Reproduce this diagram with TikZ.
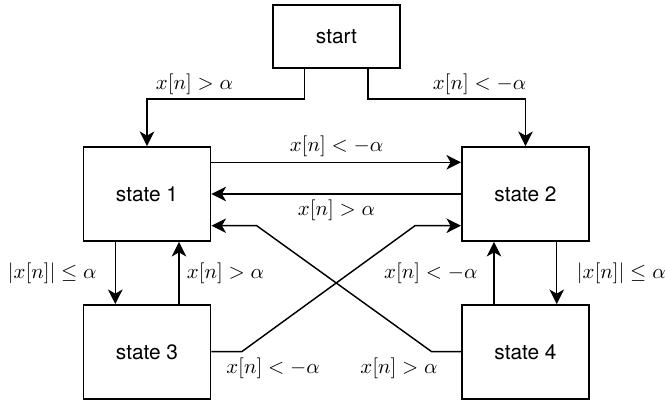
\documentclass[tikz,border=0pt]{standalone}
\usepackage{fontspec}
\setmainfont{TeX Gyre Heros}
\usetikzlibrary{arrows.meta}
\begin{document}
\begin{tikzpicture}[x=0.48pt,y=-0.48pt,
  box/.style={draw,line width=0.9pt,minimum width=61pt,minimum height=45.1pt,inner sep=0pt},
  startbox/.style={draw,line width=0.9pt,minimum width=61pt,minimum height=30.2pt,inner sep=0pt},
  arr/.style={line width=0.7pt,-{Stealth[length=7pt,width=7pt,inset=2pt]}},
  lbl/.style={inner sep=0pt}]
\useasboundingbox (0,0) rectangle (665,405);
% states
\node[startbox] (start) at (336.5,36.5) {start};
\node[box] (s1) at (147,194) {state 1};
\node[box] (s2) at (525.5,194) {state 2};
\node[box] (s3) at (147,352) {state 3};
\node[box] (s4) at (525.5,352) {state 4};
% entry transitions
\draw[arr] (start.south -| 304.5,0) |- (147,99) -- (s1.north);
\draw[arr] (start.south -| 368,0) |- (525.5,99) -- (s2.north);
\node[lbl] (l0a) at (194.5,84) {$x[n] > \alpha$};
\node[lbl] (l0b) at (479.5,84) {$x[n] < -\alpha$};
% between state 1 and state 2
\draw[arr] (s1.east |- 0,162.3) -- (s2.west |- 0,162.3);
\draw[arr] (s2.west) -- (s1.east);
\node[lbl] (l12) at (336.5,146.5) {$x[n] < -\alpha$};
\node[lbl] (l21) at (336.5,210) {$x[n] > \alpha$};
% vertical transitions
\draw[arr] (s1.south -| 115.3,0) -- (s3.north -| 115.3,0);
\draw[arr] (s3.north -| 179,0) -- (s1.south -| 179,0);
\draw[arr] (s4.north -| 494,0) -- (s2.south -| 494,0);
\draw[arr] (s2.south -| 556.7,0) -- (s4.north -| 556.7,0);
\node[lbl,anchor=east] (l13) at (97,273) {$|x[n]| \le \alpha$};
\node[lbl,anchor=west] (l31) at (186.5,273) {$x[n] > \alpha$};
\node[lbl,anchor=east] (l42) at (478,273) {$x[n] < -\alpha$};
\node[lbl,anchor=west] (l24) at (576.5,273) {$|x[n]| \le \alpha$};
% crossing transitions
\draw[arr] (s3.east |- 0,351.7) -- (241.7,351.7) -- (415,225.7) -- (s2.west |- 0,225.7);
\draw[arr] (s4.west |- 0,351.7) -- (431.7,351.7) -- (256.7,225.7) -- (s1.east |- 0,225.7);
\node[lbl] (l32) at (273,368.5) {$x[n] < -\alpha$};
\node[lbl] (l41) at (399,368.5) {$x[n] > \alpha$};
\end{tikzpicture}
\end{document}
